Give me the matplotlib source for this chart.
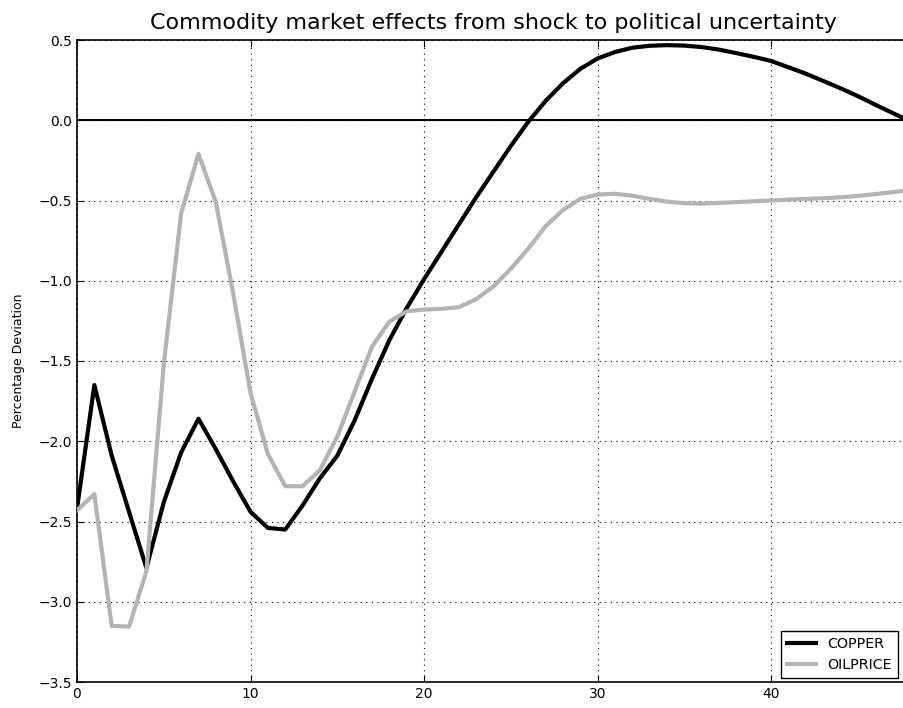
import matplotlib
matplotlib.use("Agg")
import matplotlib.pyplot as plt

periods = list(range(49))
copper = [-2.42, -1.65, -2.09, -2.44, -2.79, -2.38, -2.07, -1.86, -2.05, -2.25,
          -2.44, -2.54, -2.55, -2.40, -2.23, -2.09, -1.87, -1.61, -1.37, -1.17,
          -0.99, -0.82, -0.65, -0.48, -0.32, -0.16, -0.01, 0.12, 0.23, 0.32,
          0.385, 0.425, 0.452, 0.464, 0.468, 0.465, 0.456, 0.44, 0.418, 0.395,
          0.369, 0.33, 0.29, 0.245, 0.199, 0.15, 0.097, 0.045, -0.005]
oilprice = [-2.43, -2.33, -3.15, -3.155, -2.81, -1.52, -0.58, -0.21, -0.51, -1.08,
            -1.70, -2.08, -2.28, -2.28, -2.18, -1.97, -1.69, -1.41, -1.255, -1.19,
            -1.18, -1.175, -1.165, -1.115, -1.035, -0.925, -0.80, -0.66, -0.56, -0.49,
            -0.463, -0.458, -0.47, -0.49, -0.507, -0.517, -0.52, -0.515, -0.51, -0.505,
            -0.50, -0.495, -0.49, -0.486, -0.48, -0.472, -0.46, -0.448, -0.435]
series_names = ["COPPER", "OILPRICE"]
title = "Commodity market effects from shock to political uncertainty"
ylabel = "Percentage Deviation"

plt.rcParams['font.family'] = ['DejaVu Sans']
fig = plt.figure(figsize=(9.04, 7.08), dpi=100)
ax = fig.add_axes([77/904, 26/708, 833/904, 642/708])

ax.plot(periods, copper, color='black', lw=3, label=series_names[0], zorder=3)
ax.plot(periods, oilprice, color='#b3b3b3', lw=3, label=series_names[1], zorder=3)
ax.axhline(0, color='black', lw=1.5, zorder=2)

ax.set_xlim(0, 48)
ax.set_ylim(-3.5, 0.5)
ax.set_xticks([0, 10, 20, 30, 40])
ax.set_yticks([-3.5, -3.0, -2.5, -2.0, -1.5, -1.0, -0.5, 0.0, 0.5])
ax.set_yticklabels([f"{v:.1f}".replace('-', '\u2212') for v in ax.get_yticks()])
ax.grid(True, color='black', linestyle=(0, (1, 4)), lw=0.8)
ax.tick_params(direction='in', top=True, right=True, length=5, labelsize=10)
for s in ax.spines.values():
    s.set_linewidth(1.2)

ax.set_title(title, fontsize=16, pad=8)
ax.set_ylabel(ylabel, fontsize=9, labelpad=10)

leg = ax.legend(loc='lower right', fontsize=10.3, fancybox=False, framealpha=1,
                edgecolor='black', handlelength=2.0, borderaxespad=0.0,
                borderpad=0.45, labelspacing=0.45,
                bbox_to_anchor=(898/904, 30/708), bbox_transform=fig.transFigure)
leg.get_frame().set_linewidth(1.0)

fig.savefig("out.png", dpi=100)
